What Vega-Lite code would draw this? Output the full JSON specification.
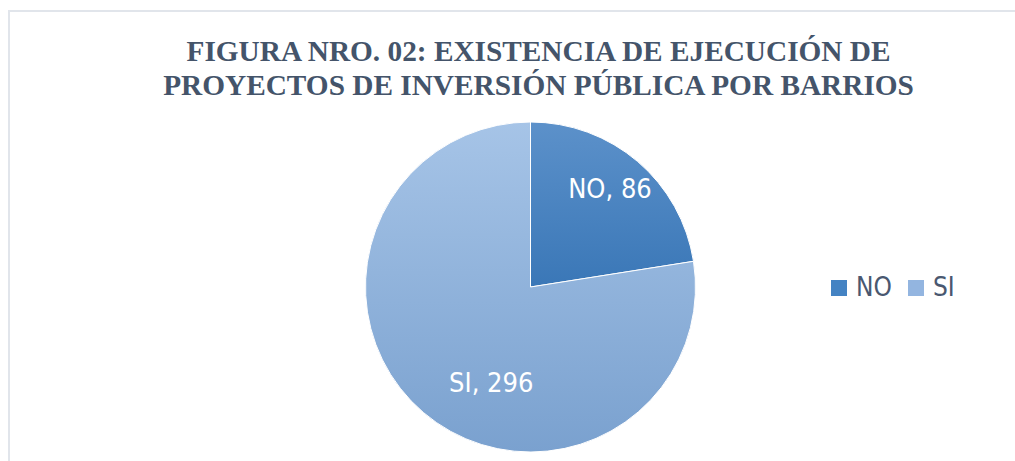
{
  "$schema": "https://vega.github.io/schema/vega-lite/v6.json",
  "width": 1043,
  "height": 552,
  "autosize": {"type": "none"},
  "padding": {"left": 9, "top": 11, "right": -37, "bottom": -102},
  "background": "white",
  "title": {
    "text": ["FIGURA NRO. 02: EXISTENCIA DE EJECUCIÓN DE", "PROYECTOS DE INVERSIÓN PÚBLICA POR BARRIOS"],
    "font": "Liberation Serif",
    "fontSize": 29.3,
    "fontWeight": "bold",
    "color": "#44546a",
    "lineHeight": 34,
    "anchor": "middle",
    "frame": "group",
    "baseline": "bottom",
    "dx": 8,
    "offset": -120
  },
  "data": {
    "values": [
      {"categoria": "NO", "valor": 86},
      {"categoria": "SI", "valor": 296}
    ]
  },
  "transform": [
    {"calculate": "datum.categoria + ', ' + datum.valor", "as": "etiqueta"}
  ],
  "layer": [
    {
      "data": {"values": [{"marco": "borde"}]},
      "mark": {"type": "rect", "fill": null, "stroke": "#e1e5eb", "strokeWidth": 2},
      "encoding": {
        "x": {"value": 0},
        "x2": {"value": "width"},
        "y": {"value": 0},
        "y2": {"value": "height"}
      }
    },
    {
      "mark": {"type": "arc", "outerRadius": 165, "stroke": "white", "strokeWidth": 1},
      "encoding": {
        "theta": {"field": "valor", "type": "quantitative", "stack": true},
        "color": {
          "field": "categoria",
          "type": "nominal",
          "scale": {"domain": ["NO", "SI"], "range": ["#4483c3", "#93b5e0"]},
          "legend": {
            "orient": "none",
            "legendX": 817,
            "legendY": 264,
            "direction": "horizontal",
            "title": null,
            "symbolType": "square",
            "symbolSize": 256,
            "symbolStrokeWidth": 0,
            "labelFont": "DejaVu Sans Condensed, sans-serif",
            "labelFontSize": 26,
            "labelColor": "#4a5870",
            "labelOffset": 4,
            "columnPadding": 11,
            "padding": 0
          }
        },
        "order": {"field": "categoria"}
      }
    },
    {
      "mark": {"type": "arc", "outerRadius": 165, "stroke": "white", "strokeWidth": 1},
      "encoding": {
        "theta": {"field": "valor", "type": "quantitative", "stack": true},
        "detail": {"field": "categoria", "type": "nominal"},
        "order": {"field": "categoria"},
        "fill": {
          "condition": {
            "test": "datum.categoria === 'NO'",
            "value": {"gradient": "linear", "x1": 0, "y1": 0, "x2": 0, "y2": 1,
              "stops": [{"offset": 0, "color": "#5c91ca"}, {"offset": 1, "color": "#3a77b7"}]}
          },
          "value": {"gradient": "linear", "x1": 0, "y1": 0, "x2": 0, "y2": 1,
            "stops": [{"offset": 0, "color": "#a6c4e7"}, {"offset": 1, "color": "#7aa1cf"}]}
        }
      }
    },
    {
      "mark": {"type": "text", "radius": 127, "dx": -3, "fontSize": 27, "font": "DejaVu Sans Condensed, sans-serif", "fill": "white", "baseline": "middle", "align": "center"},
      "encoding": {
        "theta": {"field": "valor", "type": "quantitative", "stack": true},
        "detail": {"field": "categoria", "type": "nominal"},
        "order": {"field": "categoria"},
        "text": {"condition": {"test": "datum.categoria === 'NO'", "field": "etiqueta"}, "value": ""}
      }
    },
    {
      "mark": {"type": "text", "radius": 105, "dx": 29, "dy": 17, "fontSize": 27, "font": "DejaVu Sans Condensed, sans-serif", "fill": "white", "baseline": "middle", "align": "center"},
      "encoding": {
        "theta": {"field": "valor", "type": "quantitative", "stack": true},
        "detail": {"field": "categoria", "type": "nominal"},
        "order": {"field": "categoria"},
        "text": {"condition": {"test": "datum.categoria === 'SI'", "field": "etiqueta"}, "value": ""}
      }
    }
  ]
}
